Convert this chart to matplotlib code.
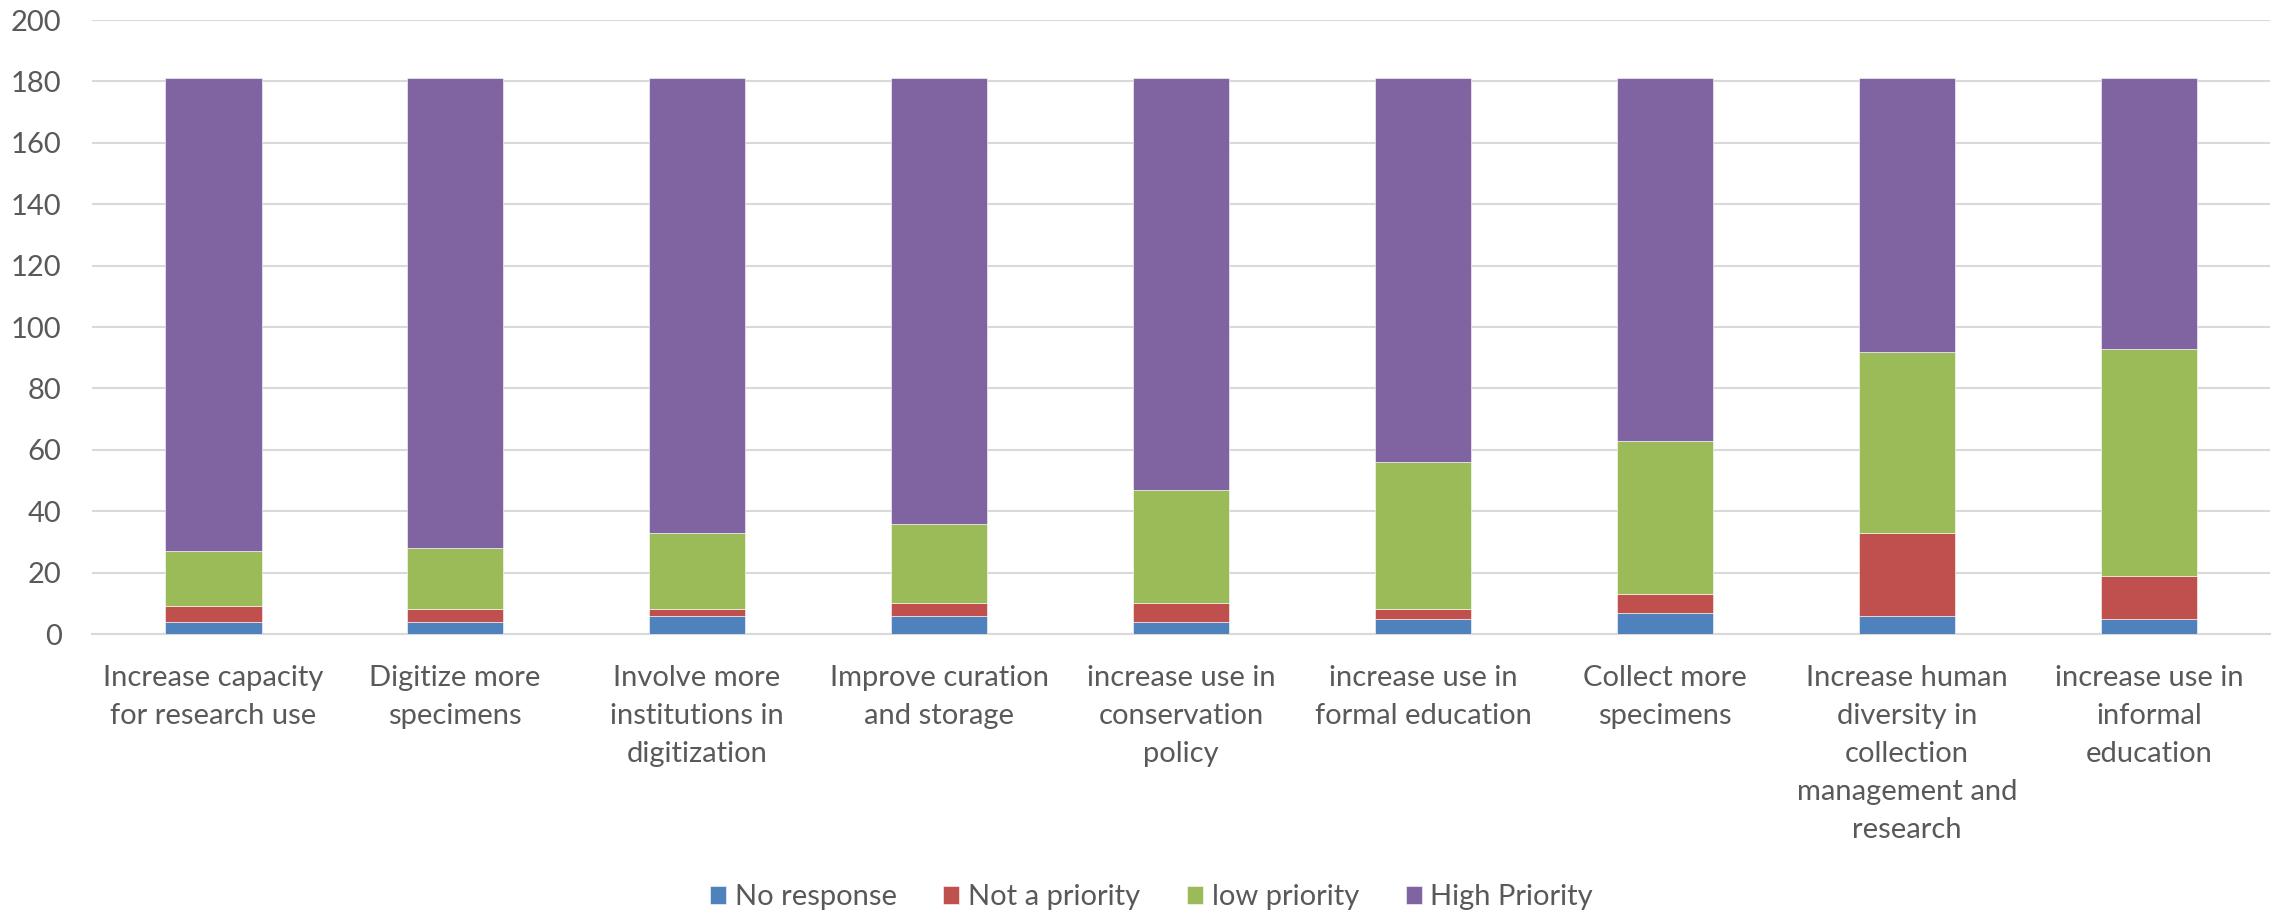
import matplotlib.pyplot as plt
import numpy as np

# categories, as wrapped in the chart
categories = [
    'Increase capacity\nfor research use',
    'Digitize more\nspecimens',
    'Involve more\ninstitutions in\ndigitization',
    'Improve curation\nand storage',
    'increase use in\nconservation\npolicy',
    'increase use in\nformal education',
    'Collect more\nspecimens',
    'Increase human\ndiversity in\ncollection\nmanagement and\nresearch',
    'increase use in\ninformal\neducation',
]

no_response = [4, 4, 6, 6, 4, 5, 7, 6, 5]
not_priority = [5, 4, 2, 4, 6, 3, 6, 27, 14]
low_priority = [18, 20, 25, 26, 37, 48, 50, 59, 74]
high_priority = [154, 153, 148, 145, 134, 125, 118, 89, 88]

series_names = ['No response', 'Not a priority', 'low priority', 'High Priority']
colors = ['#4f81bd', '#c0504d', '#9bbb59', '#8064a2']

plt.rcParams['font.family'] = ['Lato', 'DejaVu Sans']
text_color = '#595959'

fig = plt.figure(figsize=(22.8, 9.11), dpi=100)
ax = fig.add_axes([0.0404, 0.304, 0.9552, 0.674])

x = np.arange(len(categories))
bottom = np.zeros(len(categories))
for vals, name, col in zip([no_response, not_priority, low_priority, high_priority],
                           series_names, colors):
    ax.bar(x, vals, width=0.4, bottom=bottom, color=col, label=name,
           edgecolor='white', linewidth=0.4, zorder=3)
    bottom += np.array(vals)

ax.set_xlim(-0.5, len(categories) - 0.5)
ax.set_ylim(0, 200)
ax.set_yticks(range(0, 201, 20))
ax.yaxis.grid(True, color='#d9d9d9', linewidth=1.5, zorder=0)
ax.set_axisbelow(True)

for s in ['top', 'right', 'left']:
    ax.spines[s].set_visible(False)
ax.spines['bottom'].set_color('#d9d9d9')
ax.spines['bottom'].set_linewidth(1.5)

ax.set_xticks(x)
ax.set_xticklabels(categories, fontsize=21, color=text_color, linespacing=1.58)
ax.tick_params(axis='x', length=0, pad=22)
ax.tick_params(axis='y', length=0, pad=22, labelsize=21, labelcolor=text_color)

leg = fig.legend(loc='lower center', bbox_to_anchor=(0.505, -0.028), ncol=4,
                 frameon=False, fontsize=21, handlelength=0.55, handleheight=0.55,
                 handletextpad=0.3, columnspacing=1.6)
for t in leg.get_texts():
    t.set_color(text_color)

fig.savefig('out.png', dpi=100)
